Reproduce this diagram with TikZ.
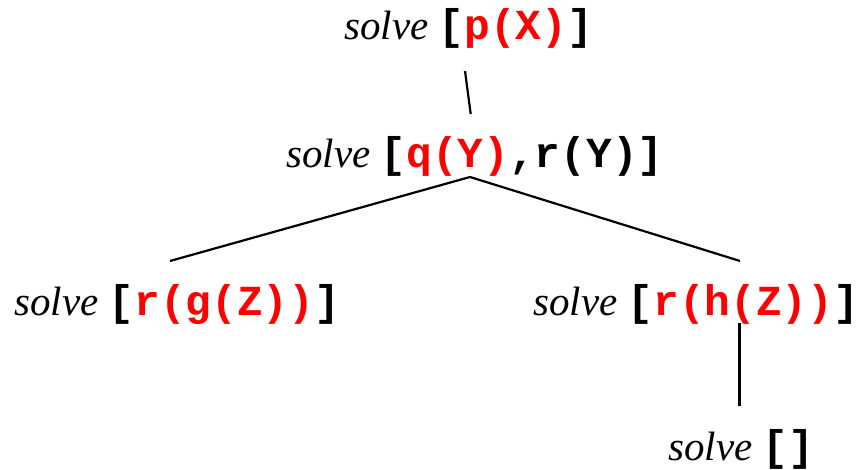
\documentclass[tikz,border=0pt]{standalone}
\usepackage{fontspec}
\setmainfont{Liberation Serif}
\newfontfamily\codefont{Liberation Mono}[Scale=1.045]
\usetikzlibrary{positioning}

% a goal list after the word solve; selected goals are red
\newcommand{\sel}[1]{\textcolor{red}{#1}}
\newcommand{\solvegoals}[1]{\textit{solve} {\codefont\bfseries[#1]}}

\begin{document}
\begin{tikzpicture}[
  x=1pt, y=-1pt,
  goal/.style   = {anchor=base west, inner sep=0pt,
                   text height=27pt, text depth=11pt,
                   font=\fontsize{41}{49}\selectfont},
  branch/.style = {draw=black, line width=2.2pt},
]
\useasboundingbox (0,0) rectangle (858,470);

% Resolution tree: one node per goal list
\node[goal] (root) at (344,40)  {\solvegoals{\sel{p(X)}}};
\node[goal] (qr)   at (286,168) {\solvegoals{\sel{q(Y)},r(Y)}};
\node[goal] (rg)   at (14,315)  {\solvegoals{\sel{r(g(Z))}}};
\node[goal] (rh)   at (533,315) {\solvegoals{\sel{r(h(Z))}}};
\node[goal] (done) at (668,460) {\solvegoals{}};

% Branches
\draw[branch] ([shift={(121,31)}]root.base west) -- ([shift={(184.7,-54)}]qr.base west);
\draw[branch] ([shift={(184,9)}]qr.base west) -- ([shift={(156,-54)}]rg.base west);
\draw[branch] ([shift={(184,9)}]qr.base west) -- ([shift={(207,-54)}]rh.base west);
\draw[branch] ([shift={(206.5,8)}]rh.base west) -- ([shift={(71.5,-54)}]done.base west);
\end{tikzpicture}
\end{document}
